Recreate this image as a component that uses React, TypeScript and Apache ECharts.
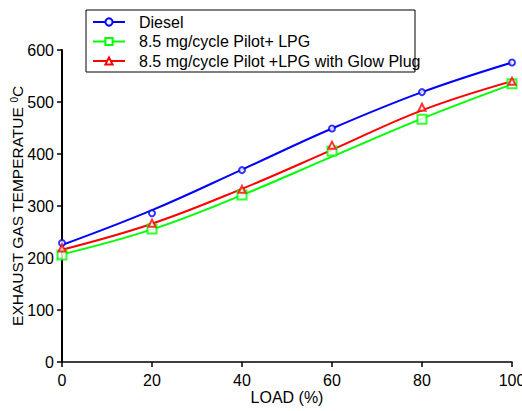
import React, { useEffect, useRef } from "react";
import * as echarts from "echarts";

const loads = [0, 20, 40, 60, 80, 100];
const seriesNames = [
  "Diesel",
  "8.5 mg/cycle Pilot+ LPG",
  "8.5 mg/cycle Pilot +LPG with Glow Plug",
];
// measured points (markers)
const dieselPts = [229, 286, 369, 449, 519, 576];
const lpgPts = [206, 256, 321, 406, 467, 535];
const glowPts = [219, 267, 332, 417, 490, 540];
// smooth trend curves drawn as lines
const dieselTrend = [225, 292, 370, 449, 519, 576];
const lpgTrend = [207, 255, 321, 395, 468, 534];
const glowTrend = [216, 266, 333, 408, 484, 540];
const yTicks = [0, 100, 200, 300, 400, 500, 600];
const xTicks = [0, 20, 40, 60, 80, 100];

const FONT = "Liberation Sans, Arial, sans-serif";

export default function App() {
  const ref = useRef<HTMLDivElement>(null);
  useEffect(() => {
    document.body.style.margin = "0";
    const chart = echarts.init(ref.current!, undefined, { renderer: "svg" });
    const pair = (xs: number[], ys: number[]) => xs.map((x, i) => [x, ys[i]]);
    const colors = ["#0000ff", "#00ff00", "#ff0000"];
    const symbols = ["emptyCircle", "emptyRect", "emptyTriangle"];
    const sizes = [6, 9, 7];
    const pts = [dieselPts, lpgPts, glowPts];
    const trends = [dieselTrend, lpgTrend, glowTrend];
    const series: any[] = [];
    seriesNames.forEach((n, i) => {
      series.push({
        name: n,
        type: "line",
        data: pair(loads, trends[i]),
        smooth: 0.4,
        symbol: symbols[i],
        symbolSize: sizes[i],
        showSymbol: false,
        lineStyle: { color: colors[i], width: 2 },
        itemStyle: { color: colors[i], borderWidth: 1.5 },
        z: 2,
      });
      series.push({
        name: n,
        type: "scatter",
        data: pair(loads, pts[i]),
        symbol: symbols[i],
        symbolSize: sizes[i],
        itemStyle: { color: colors[i], borderWidth: 1.5, borderColor: colors[i] },
        z: 3,
      });
    });
    chart.setOption({
      animation: false,
      backgroundColor: "#ffffff",
      grid: {
        left: 62,
        right: 10,
        top: 50,
        bottom: 49,
        containLabel: false,
        outerBoundsMode: "none",
      },
      xAxis: {
        type: "value",
        min: 0,
        max: 100,
        interval: 20,
        name: "LOAD (%)",
        nameLocation: "middle",
        nameGap: 27,
        nameMoveOverlap: false,
        nameTextStyle: { color: "#000", fontSize: 16, fontFamily: FONT },
        axisLine: { show: true, lineStyle: { color: "#000", width: 1.5 } },
        axisTick: { show: true, length: 5, lineStyle: { color: "#000", width: 1.5 } },
        axisLabel: {
          color: "#000",
          fontSize: 16,
          fontFamily: FONT,
          margin: 10,
          hideOverlap: false,
          formatter: (v: number) => (xTicks.includes(v) ? String(v) : ""),
        },
        splitLine: { show: false },
      },
      yAxis: {
        type: "value",
        min: 0,
        max: 600,
        interval: 100,
        name: "EXHAUST GAS TEMPERATUE {sup|0}C",
        nameLocation: "middle",
        nameGap: 36,
        nameRotate: 90,
        nameMoveOverlap: false,
        nameTextStyle: {
          color: "#000",
          fontSize: 15.5,
          fontFamily: FONT,
          rich: {
            sup: { fontSize: 10, fontFamily: FONT, color: "#000", padding: [0, 0, 7, 0] },
          },
        },
        axisLine: { show: true, lineStyle: { color: "#000", width: 2 } },
        axisTick: { show: true, length: 5, lineStyle: { color: "#000", width: 1.5 } },
        axisLabel: {
          color: "#000",
          fontSize: 16,
          fontFamily: FONT,
          margin: 8,
          formatter: (v: number) => (yTicks.includes(v) ? String(v) : ""),
        },
        splitLine: { show: false },
      },
      legend: {
        orient: "vertical",
        left: 86,
        top: 12,
        padding: [2, 0, 0, 6],
        itemWidth: 32,
        itemHeight: 9,
        itemGap: 3.5,
        data: seriesNames,
        textStyle: {
          color: "#000",
          fontSize: 16,
          fontFamily: FONT,
          padding: [0, 0, 0, 9],
          lineHeight: 16,
        },
      },
      graphic: [
        {
          type: "rect",
          shape: { x: 86, y: 10, width: 329, height: 62 },
          style: { fill: "none", stroke: "#000", lineWidth: 1 },
          z: 10,
        },
      ],
      series,
    });
    return () => chart.dispose();
  }, []);
  return (
    <div
      ref={ref}
      style={{ position: "absolute", left: 0, top: 0, width: 522, height: 411, background: "#fff" }}
    />
  );
}
